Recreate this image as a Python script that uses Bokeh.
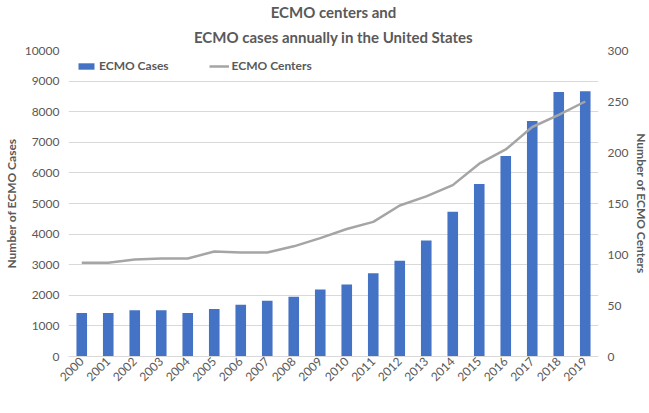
from math import pi
from bokeh.plotting import figure
from bokeh.models import (Range1d, LinearAxis, Legend, LegendItem, Title,
                          SingleIntervalTicker, FactorRange)
from bokeh.embed import file_html
from bokeh.resources import INLINE

years = [str(y) for y in range(2000, 2020)]
cases = [1420, 1420, 1510, 1510, 1420, 1550, 1690, 1820, 1950, 2190,
         2350, 2720, 3130, 3790, 4730, 5640, 6550, 7700, 8640, 8670]
centers = [92, 92, 95, 96, 96, 103, 102, 102, 108, 116,
           125, 132, 148, 157, 168, 189, 203, 225, 237, 250]

FONT = "Lato"
TXT = "#595959"

p = figure(x_range=FactorRange(*years), y_range=Range1d(0, 10000),
           frame_width=530, frame_height=306, output_backend="svg", toolbar_location=None,
           min_border_left=0, min_border_right=0, min_border_top=0, min_border_bottom=0)
p.extra_y_ranges = {"c": Range1d(0, 300)}
p.outline_line_color = None

r1 = p.vbar(x=years, top=cases, width=0.4, fill_color="#4472C4", line_color=None)
r2 = p.line(x=years, y=centers, y_range_name="c", line_color="#A5A5A5", line_width=2.5)

p.xgrid.grid_line_color = None
p.ygrid.grid_line_color = "#D9D9D9"
p.ygrid.grid_line_width = 1

ya = p.yaxis[0]
ya.ticker = SingleIntervalTicker(interval=1000)
ya.axis_label = "Number of ECMO Cases"
ra = LinearAxis(y_range_name="c", ticker=SingleIntervalTicker(interval=50),
                axis_label="Number of ECMO Centers")
p.add_layout(ra, "right")

for ax in (ya, ra):
    ax.axis_line_color = None
    ax.major_tick_line_color = None
    ax.minor_tick_line_color = None
    ax.major_tick_out = 0
    ax.major_tick_in = 0
    ax.major_label_text_font = FONT
    ax.major_label_text_font_size = "12px"
    ax.major_label_text_color = TXT
    ax.axis_label_text_font = FONT
    ax.axis_label_text_font_size = "12px"
    ax.axis_label_text_font_style = "bold"
    ax.axis_label_text_color = TXT
    ax.axis_label_standoff = 3
    ax.major_label_standoff = 5

xa = p.xaxis[0]
xa.axis_line_color = "#D9D9D9"
xa.major_tick_line_color = None
xa.minor_tick_line_color = None
xa.major_tick_out = 0
xa.major_tick_in = 0
xa.major_label_orientation = pi / 4
xa.major_label_text_font = FONT
xa.major_label_text_font_size = "12px"
xa.major_label_text_color = TXT
xa.major_label_standoff = 3

legend = Legend(items=[LegendItem(label="ECMO Cases", renderers=[r1]),
                       LegendItem(label="ECMO Centers", renderers=[r2])],
                orientation="horizontal", location="top_left",
                label_text_font=FONT, label_text_font_size="12px",
                label_text_font_style="bold", label_text_color=TXT,
                glyph_width=20, glyph_height=8, spacing=40,
                border_line_color=None, background_fill_color="white",
                background_fill_alpha=0.9,
                padding=2, margin=8, label_standoff=3)
p.add_layout(legend)

t2 = Title(text="ECMO cases annually in the United States", align="center",
           text_font=FONT, text_font_size="15px", text_font_style="bold",
           text_color=TXT, standoff=10)
t1 = Title(text="ECMO centers and", align="center",
           text_font=FONT, text_font_size="15px", text_font_style="bold",
           text_color=TXT, standoff=0)
p.add_layout(t2, "above")
p.add_layout(t1, "above")

open("out.html", "w").write(file_html(p, INLINE))
